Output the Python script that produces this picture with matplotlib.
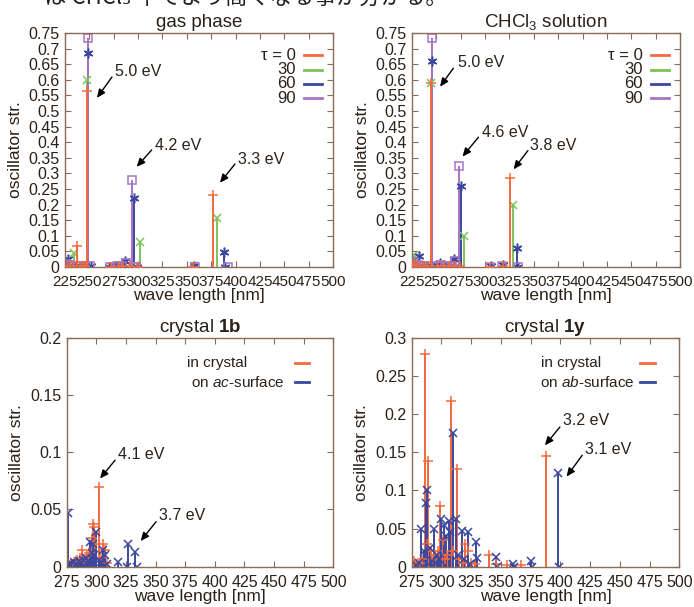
import matplotlib
matplotlib.use("Agg")
import matplotlib.pyplot as plt
from matplotlib.ticker import FuncFormatter, MultipleLocator

plt.rcParams['font.family'] = ['Liberation Sans', 'DejaVu Sans']
plt.rcParams['mathtext.fontset'] = 'custom'
plt.rcParams['mathtext.rm'] = 'Liberation Sans'
plt.rcParams['mathtext.it'] = 'Liberation Sans:italic'
plt.rcParams['mathtext.bf'] = 'Liberation Sans:bold'

# ---------------- data ----------------
# gas phase
g0_wl = [227, 230, 234, 237, 240, 243, 246, 248, 272, 280, 285, 292, 300, 356, 377]
g0_f = [0.004, 0.003, 0.002, 0.068, 0.002, 0.003, 0.002, 0.565, 0.001, 0.002, 0.003, 0.002, 0.001, 0.001, 0.23]
g30_wl = [227, 231, 234, 238, 242, 245, 248, 274, 281, 286, 293, 302, 357, 381]
g30_f = [0.005, 0.003, 0.045, 0.002, 0.003, 0.002, 0.60, 0.001, 0.003, 0.004, 0.002, 0.08, 0.002, 0.158]
g60_wl = [226, 228, 232, 236, 240, 244, 249, 252, 270, 277, 283, 287, 296, 299, 357, 388, 389]
g60_f = [0.015, 0.025, 0.004, 0.003, 0.002, 0.003, 0.685, 0.003, 0.001, 0.002, 0.004, 0.018, 0.22, 0.001, 0.002, 0.048, 0.0]
g90_wl = [226, 229, 233, 237, 241, 245, 249, 251, 271, 278, 284, 288, 294, 298, 358, 392]
g90_f = [0.01, 0.006, 0.003, 0.002, 0.003, 0.002, 0.735, 0.004, 0.001, 0.002, 0.003, 0.012, 0.28, 0.001, 0.001, 0.001]

# CHCl3 solution
c0_wl = [226, 229, 233, 237, 241, 245, 252, 258, 263, 268, 274, 305, 318, 326]
c0_f = [0.01, 0.005, 0.003, 0.002, 0.003, 0.59, 0.003, 0.002, 0.004, 0.003, 0.002, 0.001, 0.002, 0.285]
c30_wl = [227, 230, 235, 240, 244, 250, 256, 262, 268, 278, 306, 319, 329]
c30_f = [0.04, 0.02, 0.004, 0.002, 0.59, 0.003, 0.002, 0.004, 0.01, 0.1, 0.001, 0.002, 0.2]
c60_wl = [226, 232, 236, 240, 246, 250, 254, 259, 264, 268, 275, 306, 318, 333, 334]
c60_f = [0.01, 0.035, 0.004, 0.002, 0.66, 0.008, 0.012, 0.004, 0.003, 0.025, 0.26, 0.002, 0.006, 0.06, 0.001]
c90_wl = [227, 231, 235, 241, 246, 251, 255, 260, 266, 269, 273, 305, 317, 334]
c90_f = [0.015, 0.006, 0.003, 0.002, 0.735, 0.004, 0.008, 0.003, 0.004, 0.02, 0.325, 0.001, 0.004, 0.001]

# crystal 1b
b_cr_wl = [276, 279, 281, 284, 286, 288, 290, 292, 294, 296, 297, 298, 300, 302, 304, 306, 307, 309]
b_cr_f = [0.003, 0.002, 0.004, 0.006, 0.008, 0.015, 0.005, 0.01, 0.012, 0.025, 0.037, 0.035, 0.02, 0.07, 0.008, 0.02, 0.015, 0.003]
b_sf_wl = [276, 277, 279, 281, 283, 285, 287, 289, 291, 293, 295, 296, 297, 298, 300, 302, 304, 306, 307, 309, 318, 326, 327, 333, 334]
b_sf_f = [0.047, 0.002, 0.003, 0.004, 0.002, 0.005, 0.003, 0.006, 0.008, 0.005, 0.022, 0.012, 0.02, 0.01, 0.03, 0.006, 0.004, 0.015, 0.01, 0.002, 0.004, 0.0, 0.02, 0.013, 0.0]

# crystal 1y
y_cr_wl = [277, 279, 282, 284, 286, 288, 289, 291, 293, 295, 297, 299, 301, 303, 305, 308, 310, 313, 315, 318, 320, 322, 325, 328, 340, 346, 355, 367, 388]
y_cr_f = [0.007, 0.003, 0.005, 0.01, 0.278, 0.03, 0.138, 0.02, 0.01, 0.015, 0.02, 0.08, 0.035, 0.01, 0.015, 0.217, 0.02, 0.128, 0.01, 0.005, 0.03, 0.02, 0.005, 0.003, 0.015, 0.003, 0.002, 0.002, 0.145]
y_sf_wl = [279, 281, 283, 285, 287, 288, 290, 292, 294, 296, 298, 300, 302, 304, 306, 307, 310, 312, 314, 317, 319, 322, 324, 329, 330, 346, 347, 360, 361, 375, 376, 398, 399]
y_sf_f = [0.002, 0.005, 0.05, 0.02, 0.083, 0.1, 0.025, 0.008, 0.05, 0.015, 0.01, 0.062, 0.055, 0.04, 0.06, 0.045, 0.175, 0.062, 0.015, 0.047, 0.01, 0.045, 0.003, 0.033, 0.012, 0.013, 0.0, 0.004, 0.0, 0.008, 0.0, 0.123, 0.0]

tau_labels = ["τ = 0", "30", "60", "90"]
crys_labels_b = ["in crystal", "on $\\it{ac}$-surface"]
crys_labels_y = ["in crystal", "on $\\it{ab}$-surface"]

# ---------------- style ----------------
C_RED = "#f26a3d"
C_GRN = "#7cc35a"
C_BLU = "#3a47a0"
C_PUR = "#a874c4"
FRAME = "#8a6b57"
TXT = "#2b2118"

fig = plt.figure(figsize=(6.94, 6.07), dpi=100)

fig.text(22 / 694, 1 - 5 / 607, "ーは CHCl₃ 中でより高くなる事が分かる。",
         family=['Noto Sans CJK JP', 'DejaVu Sans'], fontsize=16, color="#222222",
         ha='left', va='baseline')

fmt = FuncFormatter(lambda v, p: ("%g" % round(v, 4)))


def setup(ax, xlo, xhi, ylo, yhi, ystep, title, xls):
    ax.set_xlim(xlo, xhi)
    ax.set_ylim(ylo, yhi)
    ax.xaxis.set_major_locator(MultipleLocator(25))
    ax.yaxis.set_major_locator(MultipleLocator(ystep))
    ax.yaxis.set_major_formatter(fmt)
    ax.tick_params(direction='in', top=True, right=True, length=4, width=0.8,
                   color=FRAME, labelcolor=TXT, labelsize=11.5)
    ax.tick_params(axis='x', pad=6, labelsize=xls)
    ax.tick_params(axis='y', pad=4)
    for s in ax.spines.values():
        s.set_color(FRAME)
        s.set_linewidth(1.0)
    ax.set_title(title, fontsize=13.5, color=TXT, pad=4)
    ax.set_xlabel("wave length [nm]", fontsize=12.5, color=TXT, labelpad=-1)
    ax.set_ylabel("oscillator str.", fontsize=12.5, color=TXT, labelpad=4)


def impulses(ax, wl, f, color, marker, ms=6, mfc=None, z=2):
    ax.vlines(wl, 0, f, colors=color, linewidth=1.4, zorder=z)
    ax.plot(wl, f, ls='none', marker=marker, color=color, ms=ms, mew=1.1,
            mfc=mfc if mfc else color, zorder=z + 0.5)


def arrow(ax, text, head, tail, textpos):
    ax.annotate("", xy=head, xytext=tail,
                arrowprops=dict(arrowstyle="-|>,head_length=0.5,head_width=0.22",
                                color="black", lw=1.0, shrinkA=0, shrinkB=0))
    ax.text(textpos[0], textpos[1], text, fontsize=11.5, color=TXT, ha='left', va='center')


def tau_legend(ax, labels, colors):
    for i, (lab, col) in enumerate(zip(labels, colors)):
        yy = 0.905 - i * 0.061
        ax.text(0.86, yy, lab, transform=ax.transAxes, ha='right', va='center',
                fontsize=12, color=TXT)
        ax.plot([0.89, 0.96], [yy, yy], transform=ax.transAxes, color=col, lw=2)


def crys_legend(ax, labels, colors, xtext):
    for i, (lab, col) in enumerate(zip(labels, colors)):
        yy = 0.89 - i * 0.085
        ax.text(xtext[i], yy, lab, transform=ax.transAxes, ha='left', va='center',
                fontsize=11, color=TXT)
        ax.plot([0.855, 0.91], [yy, yy], transform=ax.transAxes, color=col, lw=2)


# ---- gas phase ----
ax1 = fig.add_axes([65 / 694, 1 - 267 / 607, 268 / 694, 234 / 607])
setup(ax1, 225, 500, 0, 0.75, 0.05, "gas phase", 11)
impulses(ax1, g30_wl, g30_f, C_GRN, 'x', ms=6)
impulses(ax1, g60_wl, g60_f, C_BLU, (6, 2, 0), ms=7)
impulses(ax1, g90_wl, g90_f, C_PUR, 's', ms=6, mfc='none')
impulses(ax1, g0_wl, g0_f, C_RED, '+', ms=7, z=3)
arrow(ax1, "5.0 eV", (257.8, 0.542), (273.2, 0.609), (276.3, 0.625))
arrow(ax1, "4.2 eV", (298.5, 0.321), (313.9, 0.375), (317.3, 0.391))
arrow(ax1, "3.3 eV", (384.0, 0.270), (399.4, 0.330), (402.4, 0.346))
tau_legend(ax1, tau_labels, [C_RED, C_GRN, C_BLU, C_PUR])

# ---- CHCl3 solution ----
ax2 = fig.add_axes([412 / 694, 1 - 267 / 607, 268 / 694, 234 / 607])
setup(ax2, 225, 500, 0, 0.75, 0.05, "CHCl$_3$ solution", 11)
impulses(ax2, c30_wl, c30_f, C_GRN, 'x', ms=6)
impulses(ax2, c60_wl, c60_f, C_BLU, (6, 2, 0), ms=7)
impulses(ax2, c90_wl, c90_f, C_PUR, 's', ms=6, mfc='none')
impulses(ax2, c0_wl, c0_f, C_RED, '+', ms=7, z=3)
arrow(ax2, "5.0 eV", (253.8, 0.578), (267.4, 0.637), (272.3, 0.655))
arrow(ax2, "4.6 eV", (276.8, 0.354), (293.2, 0.416), (296.6, 0.430))
arrow(ax2, "3.8 eV", (329.2, 0.313), (343.9, 0.373), (346.3, 0.389))
tau_legend(ax2, tau_labels, [C_RED, C_GRN, C_BLU, C_PUR])

# ---- crystal 1b ----
ax3 = fig.add_axes([66.7 / 694, 1 - 566.7 / 607, 266.7 / 694, 229 / 607])
setup(ax3, 275, 500, 0, 0.2, 0.05, "crystal $\\mathbf{1b}$", 11.5)
impulses(ax3, b_cr_wl, b_cr_f, C_RED, '+', ms=7)
impulses(ax3, b_sf_wl, b_sf_f, C_BLU, 'x', ms=6)
arrow(ax3, "4.1 eV", (303.1, 0.077), (315.8, 0.093), (318.3, 0.098))
arrow(ax3, "3.7 eV", (337.4, 0.0224), (350.4, 0.0393), (352.9, 0.0443))
crys_legend(ax3, crys_labels_b, [C_RED, C_BLU], [0.45, 0.465])

# ---- crystal 1y ----
ax4 = fig.add_axes([411.7 / 694, 1 - 566.7 / 607, 267.6 / 694, 229 / 607])
setup(ax4, 275, 500, 0, 0.3, 0.05, "crystal $\\mathbf{1y}$", 11.5)
impulses(ax4, y_cr_wl, y_cr_f, C_RED, '+', ms=7)
impulses(ax4, y_sf_wl, y_sf_f, C_BLU, 'x', ms=6)
arrow(ax4, "3.2 eV", (387.0, 0.159), (399.6, 0.183), (402.4, 0.191))
arrow(ax4, "3.1 eV", (405.2, 0.118), (418.4, 0.146), (420.6, 0.153))
crys_legend(ax4, crys_labels_y, [C_RED, C_BLU], [0.485, 0.48])

fig.savefig("out.png", dpi=100)
